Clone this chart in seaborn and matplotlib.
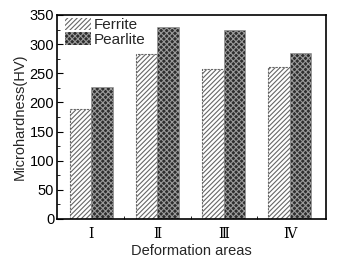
import matplotlib
matplotlib.use("Agg")
import matplotlib.pyplot as plt
import seaborn as sns
import pandas as pd
from matplotlib.ticker import MultipleLocator
from matplotlib.patches import Patch

areas = ["Ⅰ", "Ⅱ", "Ⅲ", "Ⅳ"]
ferrite = [188, 283, 257, 261]
pearlite = [226, 329, 324, 285]

df = pd.DataFrame({
    "area": areas * 2,
    "hv": ferrite + pearlite,
    "phase": ["Ferrite"] * 4 + ["Pearlite"] * 4,
})

sns.set_style("ticks")
plt.rcParams['font.family'] = ['Liberation Sans', 'DejaVu Sans']
plt.rcParams['hatch.linewidth'] = 0.8

fig = plt.figure(figsize=(3.37, 2.61), dpi=100)
ax = fig.add_axes([57/337, 1 - 219/261, (326-57)/337, (219-15)/261])

sns.barplot(data=df, x="area", y="hv", hue="phase", ax=ax, width=0.64,
            palette=["white", "#333333"], saturation=1, legend=False)

F_STYLE = dict(facecolor='white', edgecolor='#666666', hatch='///////')
P_STYLE = dict(facecolor='#2e2e2e', edgecolor='#9a9a9a', hatch='xxxxxx')

for b in ax.containers[0]:
    b.set_hatch(F_STYLE['hatch'])
    b.set_facecolor(F_STYLE['facecolor'])
    b.set_edgecolor(F_STYLE['edgecolor'])
    b.set_linestyle((0, (2, 1)))
    b.set_linewidth(0.8)
for b in ax.containers[1]:
    b.set_hatch(P_STYLE['hatch'])
    b.set_facecolor(P_STYLE['facecolor'])
    b.set_edgecolor(P_STYLE['edgecolor'])
    b.set_linewidth(0.4)

ax.set_ylim(0, 350)
ax.set_xlim(-0.52, 3.55)
ax.yaxis.set_major_locator(MultipleLocator(50))
ax.yaxis.set_minor_locator(MultipleLocator(25))
ax.set_xticks([0.5, 1.5, 2.5], minor=True)
ax.tick_params(axis='both', which='both', direction='in', labelsize=10.5, colors='black')
ax.tick_params(axis='both', which='major', length=4)
ax.tick_params(axis='both', which='minor', length=2)
ax.tick_params(axis='x', which='major', length=0, pad=6)
ax.tick_params(axis='y', which='major', pad=2)
for lab in ax.get_xticklabels():
    lab.set_family(['DejaVu Serif'])
    lab.set_fontsize(10)

for s in ax.spines.values():
    s.set_visible(True)
    s.set_linewidth(1.2)
    s.set_color('black')

ax.set_xlabel("Deformation areas", fontsize=10.5, labelpad=2)
ax.set_ylabel("Microhardness(HV)", fontsize=10.5, labelpad=2)

handles = [Patch(linewidth=0, label='Ferrite', **F_STYLE),
           Patch(linewidth=0, label='Pearlite', **P_STYLE)]
ax.legend(handles=handles, loc='upper left', frameon=False, fontsize=11,
          handlelength=1.65, handleheight=0.85, handletextpad=0.2, labelspacing=0.0,
          borderaxespad=0.0, borderpad=0.2, bbox_to_anchor=(0.02, 1.0))

fig.savefig("out.png", dpi=100)
